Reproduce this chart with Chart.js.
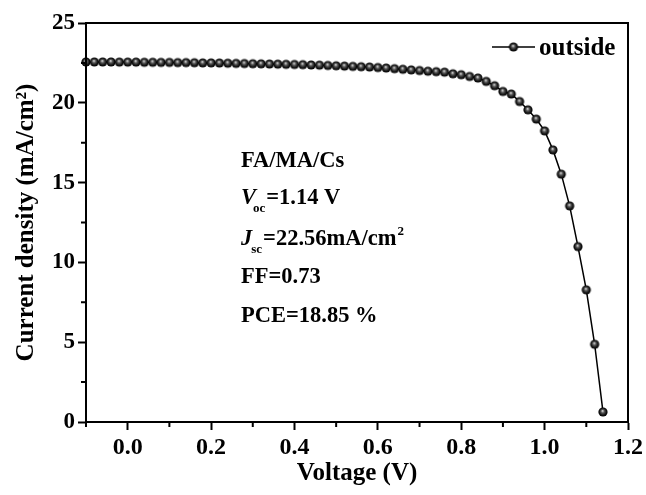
<!DOCTYPE html>
<html>
<head>
<meta charset="utf-8">
<script src="https://cdn.jsdelivr.net/npm/chart.js@4.4.1/dist/chart.umd.min.js"></script>
<style>
  html, body { margin: 0; padding: 0; background: #fff; }
  #wrap { width: 646px; height: 495px; }
</style>
</head>
<body>
<div id="wrap"><canvas id="c" width="646" height="495"></canvas></div>
<script>
// ---- data ----
const voltage = [-0.10,-0.08,-0.06,-0.04,-0.02,0.00,0.02,0.04,0.06,0.08,0.10,0.12,0.14,0.16,0.18,0.20,
  0.22,0.24,0.26,0.28,0.30,0.32,0.34,0.36,0.38,0.40,0.42,0.44,0.46,0.48,0.50,0.52,0.54,0.56,0.58,0.60,
  0.62,0.64,0.66,0.68,0.70,0.72,0.74,0.76,0.78,0.80,0.82,0.84,0.86,0.88,0.90,0.92,0.94,0.96,0.98,1.00,
  1.02,1.04,1.06,1.08,1.10,1.12,1.14];
const current = [22.56,22.56,22.56,22.56,22.55,22.55,22.55,22.54,22.54,22.53,22.53,22.52,22.52,22.51,22.50,22.50,
  22.49,22.48,22.47,22.46,22.45,22.44,22.43,22.42,22.41,22.40,22.39,22.37,22.36,22.34,22.32,22.30,22.28,22.26,22.24,22.21,
  22.18,22.14,22.10,22.06,22.02,21.98,21.95,21.92,21.82,21.76,21.65,21.55,21.34,21.07,20.71,20.55,20.08,19.56,18.98,18.24,
  17.05,15.53,13.54,10.99,8.28,4.87,0.63];
const seriesName = "outside";
const xTicks = [0.0,0.2,0.4,0.6,0.8,1.0,1.2];
const xMinorTicks = [-0.1,0.1,0.3,0.5,0.7,0.9,1.1];
const yTicks = [0,5,10,15,20,25];
const yMinorTicks = [2.5,7.5,12.5,17.5,22.5];
const annoTitle = "FA/MA/Cs";
const vocText = "=1.14 V";
const jscText = "=22.56mA/cm";
const ffText = "FF=0.73";
const pceText = "PCE=18.85 %";

const FONT = "'Liberation Serif', 'Times New Roman', serif";

// sphere-like marker
function makeBall(r) {
  const c = document.createElement('canvas');
  const s = Math.ceil(r * 2 + 2);
  c.width = s; c.height = s;
  const g = c.getContext('2d');
  const cx = s / 2, cy = s / 2;
  const grad = g.createRadialGradient(cx - r * 0.1, cy - r * 0.25, 0.2, cx, cy, r);
  grad.addColorStop(0, '#d8d8d8');
  grad.addColorStop(0.35, '#555');
  grad.addColorStop(0.75, '#111');
  grad.addColorStop(1, '#000');
  g.fillStyle = grad;
  g.beginPath(); g.arc(cx, cy, r, 0, Math.PI * 2); g.fill();
  return c;
}
const ball = makeBall(4.6);

const points = voltage.map((v, i) => ({ x: v, y: current[i] }));

const decor = {
  id: 'decor',
  afterDraw(chart) {
    const ctx = chart.ctx;
    const a = chart.chartArea;
    const xs = chart.scales.x, ys = chart.scales.y;
    ctx.save();
    // frame
    ctx.strokeStyle = '#000';
    ctx.lineWidth = 2;
    ctx.strokeRect(a.left, a.top, a.right - a.left, a.bottom - a.top);
    // minor ticks
    ctx.beginPath();
    xMinorTicks.forEach(v => {
      const px = xs.getPixelForValue(v);
      ctx.moveTo(px, a.bottom); ctx.lineTo(px, a.bottom + 5);
    });
    yMinorTicks.forEach(v => {
      const py = ys.getPixelForValue(v);
      ctx.moveTo(a.left, py); ctx.lineTo(a.left - 5, py);
    });
    ctx.stroke();

    // legend
    const ly = 47;
    ctx.lineWidth = 1.5;
    ctx.beginPath(); ctx.moveTo(492, ly); ctx.lineTo(535, ly); ctx.stroke();
    ctx.drawImage(ball, 513.5 - ball.width / 2, ly - ball.height / 2);
    ctx.fillStyle = '#000';
    ctx.font = "bold 25px " + FONT;
    ctx.textBaseline = 'alphabetic';
    ctx.textAlign = 'left';
    ctx.fillText(seriesName, 539, 55);

    // annotation
    const x0 = 241;
    const F = "bold 22.5px " + FONT;
    const FI = "italic bold 22.5px " + FONT;
    const FS = "bold 13px " + FONT;
    ctx.font = F;
    ctx.fillText(annoTitle, x0, 167);
    // Voc
    ctx.font = FI;
    ctx.fillText("V", x0, 204);
    let w = ctx.measureText("V").width;
    ctx.font = FS;
    ctx.fillText("oc", x0 + w - 3, 212);
    let w2 = ctx.measureText("oc").width;
    ctx.font = F;
    ctx.fillText(vocText, x0 + w - 3 + w2 + 1, 204);
    // Jsc
    ctx.font = FI;
    ctx.fillText("J", x0, 245);
    w = ctx.measureText("J").width;
    ctx.font = FS;
    ctx.fillText("sc", x0 + w - 1, 253);
    w2 = ctx.measureText("sc").width;
    ctx.font = F;
    const jx = x0 + w - 1 + w2 + 1;
    ctx.fillText(jscText, jx, 245);
    const w3 = ctx.measureText(jscText).width;
    ctx.font = FS;
    ctx.fillText("2", jx + w3 + 1, 235);
    ctx.font = F;
    ctx.fillText(ffText, x0, 283);
    ctx.fillText(pceText, x0, 322);
    ctx.restore();
  }
};

new Chart(document.getElementById('c'), {
  type: 'line',
  data: {
    datasets: [{
      label: seriesName,
      data: points,
      borderColor: '#000',
      borderWidth: 1.5,
      pointStyle: ball,
      pointRadius: 4.6,
      tension: 0,
      clip: false
    }]
  },
  options: {
    responsive: false,
    animation: false,
    layout: { padding: { top: 23, right: 18, left: 0, bottom: 0 } },
    plugins: { legend: { display: false }, tooltip: { enabled: false } },
    scales: {
      x: {
        type: 'linear',
        min: -0.1, max: 1.2,
        afterFit(s) { s.height = 73; },
        afterBuildTicks(s) { s.ticks = xTicks.map(v => ({ value: v })); },
        grid: { display: true, drawOnChartArea: false, drawTicks: true, tickLength: 8, tickWidth: 2, tickColor: '#000' },
        border: { display: true, color: '#000', width: 2 },
        ticks: {
          color: '#000', padding: 3, maxRotation: 0,
          font: { family: FONT, size: 24, weight: 'bold' },
          callback: v => Number(v).toFixed(1)
        },
        title: {
          display: true, text: 'Voltage (V)', color: '#000',
          font: { family: FONT, size: 25, weight: 'bold' },
          padding: { top: 0, bottom: 6 }
        }
      },
      y: {
        type: 'linear',
        min: 0, max: 25,
        afterFit(s) { s.width = 86; },
        afterBuildTicks(s) { s.ticks = yTicks.map(v => ({ value: v })); },
        grid: { display: true, drawOnChartArea: false, drawTicks: true, tickLength: 8, tickWidth: 2, tickColor: '#000' },
        border: { display: true, color: '#000', width: 2 },
        ticks: {
          color: '#000', padding: 3,
          font: { family: FONT, size: 23, weight: 'bold' },
          callback: v => String(v)
        },
        title: {
          display: true, text: 'Current density (mA/cm²)', color: '#000',
          font: { family: FONT, size: 25, weight: 'bold' },
          padding: { top: 12, bottom: 0 }
        }
      }
    }
  },
  plugins: [decor]
});
</script>
</body>
</html>
